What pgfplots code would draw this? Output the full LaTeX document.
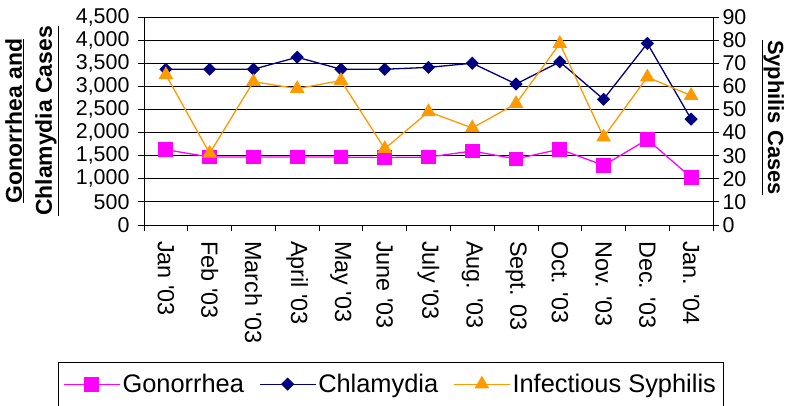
\documentclass[border=0pt]{standalone}
\usepackage{fontspec}
\setmainfont{Liberation Sans}[Ligatures=TeXOff]
\usepackage{pgfplots}
\pgfplotsset{compat=1.18}
\definecolor{gon}{HTML}{FF00FF}
\definecolor{chl}{HTML}{000080}
\definecolor{syp}{HTML}{FF9900}
\pgfplotsset{
  common/.style={
    at={(144bp,181bp)}, anchor=south west,
    width=569bp, height=208bp, scale only axis,
    xmin=-0.5, xmax=12.5,
    /pgf/number format/assume math mode=true,
    /pgf/number format/1000 sep={,},
    tick label style={font=\fontsize{21.5}{21.5}\selectfont, black},
    axis line style={black, line width=0.8bp},
    tick style={black, line width=0.8bp},
    tick align=outside,
    major tick length=6bp,
    ytick style={black},
  },
  myleg/.style={legend image code/.code={
    \draw[mark repeat=2,mark phase=2, line width=1.3bp] plot coordinates {(0bp,0bp) (28bp,0bp) (56bp,0bp)};}},
}
\begin{document}
\begin{tikzpicture}
\useasboundingbox (0,0) rectangle (786bp,406bp);
\begin{axis}[common,
  ymin=0, ymax=4500,
  axis x line*=bottom, axis y line*=left,
  ytick={0,500,...,4500},
  yticklabel style={xshift=-5bp},
  ymajorgrids, grid style={black, line width=0.8bp},
  xtick={-0.5,0.5,...,12.5}, xticklabels={},
  extra x ticks={0,...,12},
  extra x tick labels={Jan '03, Feb '03, March '03, April '03, May '03, June '03, July '03, Aug. '03, Sept. 03, Oct. '03, Nov. '03, Dec. '03, Jan. '04},
  extra x tick style={major tick length=0pt, xticklabel style={rotate=-90, anchor=west, inner xsep=16bp, font=\fontsize{23.5}{23.5}\selectfont}},
  ylabel={\underline{Gonorrhea and}\\\underline{Chlamydia Cases}},
  ylabel style={at={(axis description cs:-0.197,0.5)}, anchor=center, align=center, font=\fontsize{23}{30}\selectfont\bfseries},
  legend columns=3,
  legend style={at={(axis description cs:-0.1511,-0.6587)}, anchor=north west, draw=black,
    font=\fontsize{25.5}{25.5}\selectfont, inner xsep=5bp, inner ysep=10bp,
    /tikz/every even column/.append style={column sep=13bp}},
  legend cell align=left,
]
\addplot[gon, line width=1.3bp, mark=square*, mark size=6.75bp, mark options={solid, fill=gon}, myleg]
  coordinates {(0,1630) (1,1470) (2,1470) (3,1470) (4,1470) (5,1460) (6,1470) (7,1600) (8,1430) (9,1640) (10,1290) (11,1850) (12,1030)};
\addlegendentry{Gonorrhea}
\addplot[chl, line width=1.3bp, mark=square*, mark size=4bp, mark options={solid, fill=chl, rotate=45}, myleg]
  coordinates {(0,3370) (1,3370) (2,3370) (3,3630) (4,3370) (5,3370) (6,3410) (7,3500) (8,3050) (9,3530) (10,2720) (11,3930) (12,2290)};
\addlegendentry{Chlamydia}
\addlegendimage{syp, line width=1.3bp, mark=triangle*, mark size=7.2bp, mark options={solid, fill=syp}, myleg}
\addlegendentry{Infectious Syphilis}
\end{axis}
\begin{axis}[common,
  ymin=0, ymax=90,
  axis x line=none, axis y line*=right,
  ytick={0,10,...,90},
  ylabel={\underline{Syphilis Cases}},
  ylabel style={at={(axis description cs:1.105,0.517)}, anchor=center, rotate=180, font=\fontsize{22}{26}\selectfont\bfseries},
]
\addplot[syp, line width=1.3bp, mark=triangle*, mark size=7.2bp, mark options={solid, fill=syp}]
  coordinates {(0,65) (1,31) (2,62) (3,59) (4,62.5) (5,33) (6,49) (7,42) (8,52.5) (9,78.5) (10,38) (11,64) (12,56)};
\end{axis}
\end{tikzpicture}
\end{document}
